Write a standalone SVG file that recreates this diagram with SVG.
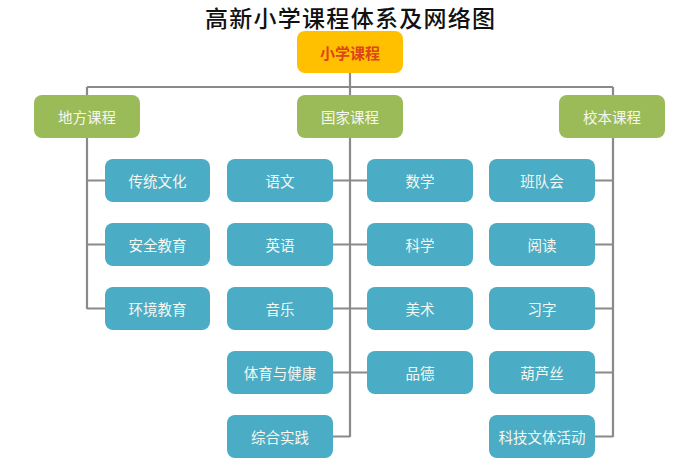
<svg xmlns="http://www.w3.org/2000/svg" width="700" height="470" viewBox="0 0 700 470">
<style>
.title{font-family:"Noto Sans CJK SC","Noto Sans",sans-serif;font-size:23px;font-weight:500;fill:#111;text-anchor:middle}
.t{font-family:"Noto Sans CJK SC","Noto Sans",sans-serif;font-size:14.5px;fill:#f4f8f0;text-anchor:middle;dominant-baseline:central}
.rt{font-family:"Noto Sans CJK SC","Noto Sans",sans-serif;font-size:15px;font-weight:bold;fill:#e0431a;text-anchor:middle;dominant-baseline:central}
.root{fill:#ffc000}
.g{fill:#9bbb59}
.b{fill:#4bacc6}
.ln{stroke:#8a8a8a;stroke-width:2.2;fill:none}
</style>
<rect width="700" height="470" fill="#fff"/>
<text class="title" x="350" y="27" textLength="290" lengthAdjust="spacing">高新小学课程体系及网络图</text>
<g id="connectors">
<path class="ln" d="M350,73 V87 M87,87 H613"/>
<path class="ln" d="M87,87 V309 M87,180.5 H105 M87,244.5 H105 M87,308.5 H105"/>
<path class="ln" d="M350,87 V437 M333,180.5 H367 M333,244.5 H367 M333,308.5 H367 M333,372.5 H367 M333,436.5 H350"/>
<path class="ln" d="M613,87 V437 M595,180.5 H613 M595,244.5 H613 M595,308.5 H613 M595,372.5 H613 M595,436.5 H613"/>
</g>
<g id="root"><rect class="root" x="297" y="31" width="106" height="42" rx="8"/><text class="rt" x="350" y="52">小学课程</text></g>
<g id="local"><rect class="g" x="34" y="95" width="106" height="43" rx="8"/><text class="t" x="87" y="116.5">地方课程</text></g>
<g id="national"><rect class="g" x="297" y="95" width="106" height="43" rx="8"/><text class="t" x="350" y="116.5">国家课程</text></g>
<g id="school"><rect class="g" x="559" y="95" width="106" height="43" rx="8"/><text class="t" x="612" y="116.5">校本课程</text></g>
<g id="l1"><rect class="b" x="105" y="159" width="105" height="43" rx="8"/><text class="t" x="157.5" y="180.5">传统文化</text></g>
<g id="l2"><rect class="b" x="105" y="223" width="105" height="43" rx="8"/><text class="t" x="157.5" y="244.5">安全教育</text></g>
<g id="l3"><rect class="b" x="105" y="287" width="105" height="43" rx="8"/><text class="t" x="157.5" y="308.5">环境教育</text></g>
<g id="n1"><rect class="b" x="227" y="159" width="106" height="43" rx="8"/><text class="t" x="280" y="180.5">语文</text></g>
<g id="n2"><rect class="b" x="227" y="223" width="106" height="43" rx="8"/><text class="t" x="280" y="244.5">英语</text></g>
<g id="n3"><rect class="b" x="227" y="287" width="106" height="43" rx="8"/><text class="t" x="280" y="308.5">音乐</text></g>
<g id="n4"><rect class="b" x="227" y="351" width="106" height="43" rx="8"/><text class="t" x="280" y="372.5">体育与健康</text></g>
<g id="n5"><rect class="b" x="227" y="415" width="106" height="43" rx="8"/><text class="t" x="280" y="436.5">综合实践</text></g>
<g id="n6"><rect class="b" x="367" y="159" width="106" height="43" rx="8"/><text class="t" x="420" y="180.5">数学</text></g>
<g id="n7"><rect class="b" x="367" y="223" width="106" height="43" rx="8"/><text class="t" x="420" y="244.5">科学</text></g>
<g id="n8"><rect class="b" x="367" y="287" width="106" height="43" rx="8"/><text class="t" x="420" y="308.5">美术</text></g>
<g id="n9"><rect class="b" x="367" y="351" width="106" height="43" rx="8"/><text class="t" x="420" y="372.5">品德</text></g>
<g id="s1"><rect class="b" x="489" y="159" width="106" height="43" rx="8"/><text class="t" x="542" y="180.5">班队会</text></g>
<g id="s2"><rect class="b" x="489" y="223" width="106" height="43" rx="8"/><text class="t" x="542" y="244.5">阅读</text></g>
<g id="s3"><rect class="b" x="489" y="287" width="106" height="43" rx="8"/><text class="t" x="542" y="308.5">习字</text></g>
<g id="s4"><rect class="b" x="489" y="351" width="106" height="43" rx="8"/><text class="t" x="542" y="372.5">葫芦丝</text></g>
<g id="s5"><rect class="b" x="489" y="415" width="106" height="43" rx="8"/><text class="t" x="542" y="436.5">科技文体活动</text></g>
</svg>
